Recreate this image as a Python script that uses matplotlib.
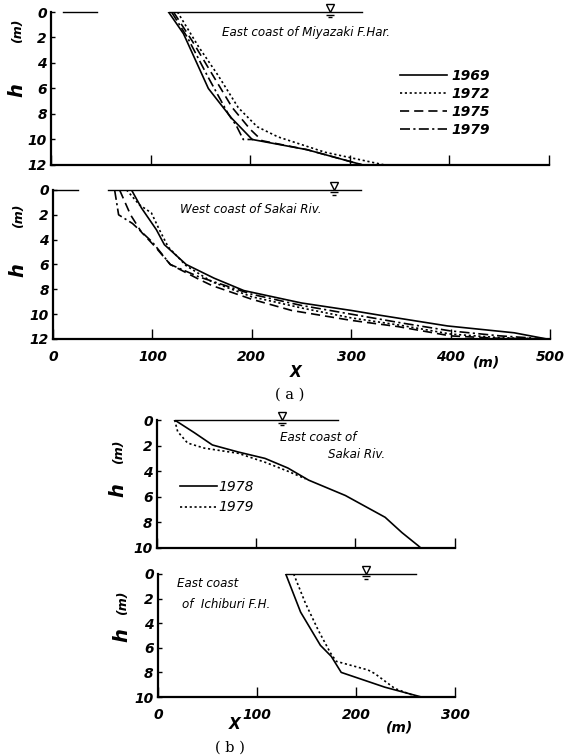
import matplotlib
matplotlib.use("Agg")
import matplotlib.pyplot as plt
from matplotlib.transforms import offset_copy

plt.rcParams["font.family"] = "DejaVu Sans"

# ----------
#  DATA  (x: distance offshore [m], h: depth [m])
# ----------
# (a) East coast of Miyazaki F.Har.
miy_1969_x = [118, 133, 158, 181, 202, 257, 313]
miy_1969_h = [0, 1.7, 6.0, 8.3, 10.0, 10.8, 12.0]
miy_1972_x = [127, 148, 168, 188, 207, 228, 275, 335]
miy_1972_h = [0, 2.7, 5.0, 7.5, 9.0, 9.8, 11.0, 12.0]
miy_1975_x = [123, 142, 162, 182, 200, 212, 257, 313]
miy_1975_h = [0, 2.3, 4.9, 7.5, 9.2, 10.1, 10.8, 12.0]
miy_1979_x = [121, 137, 157, 178, 186, 193, 203]
miy_1979_h = [0, 2.0, 5.0, 8.0, 8.9, 10.0, 10.0]

# (a) West coast of Sakai Riv.
sakw_1969_x = [79, 89, 104, 112, 134, 162, 192, 250, 300, 330, 397, 464, 497]
sakw_1969_h = [0, 1.45, 3.2, 4.4, 6.0, 7.1, 8.1, 9.1, 9.7, 10.1, 10.95, 11.5, 12.0]
sakw_1972_x = [74, 87, 99, 107, 116, 134, 160, 200, 250, 300, 350, 400, 450, 497]
sakw_1972_h = [0, 1.2, 1.85, 3.2, 4.6, 6.1, 7.4, 8.6, 9.5, 10.3, 10.9, 11.6, 11.9, 12.0]
sakw_1975_x = [67, 78, 89, 102, 118, 147, 160, 200, 240, 300, 347, 400, 450, 497]
sakw_1975_h = [0, 2.0, 3.4, 4.5, 6.0, 7.2, 7.7, 8.8, 9.7, 10.5, 11.0, 11.75, 11.95, 12.0]
sakw_1979_x = [62, 66, 80, 100, 118, 147, 200, 250, 300, 350, 400, 450, 497]
sakw_1979_h = [0, 2.0, 2.7, 4.2, 6.0, 7.0, 8.4, 9.3, 10.0, 10.7, 11.35, 11.75, 12.0]

# (b) East coast of Sakai Riv.
sake_1978_x = [18, 38, 56, 82, 109, 132, 153, 190, 230, 247, 263, 266]
sake_1978_h = [0, 1.0, 1.95, 2.5, 3.0, 3.75, 4.7, 5.9, 7.6, 8.8, 9.8, 10.0]
sake_1979_x = [18, 21, 31, 48, 82, 109, 132, 150]
sake_1979_h = [0, 0.9, 1.8, 2.2, 2.6, 3.3, 4.0, 4.6]

# (b) East coast of Ichiburi F.H.
ich_1978_x = [129, 144, 164, 175, 185, 229, 266]
ich_1978_h = [0, 3.1, 5.8, 6.7, 8.0, 9.2, 10.0]
ich_1979_x = [137, 149, 162, 174, 180, 212, 219, 239, 262]
ich_1979_h = [0, 2.4, 4.6, 6.4, 7.1, 7.8, 8.1, 9.3, 10.0]

# water surface: line span, symbol position, stray border piece
water_miy = ([118, 312], 280, [12, 46])
water_sakw = ([55, 310], 283, [0, 25])
water_sake = ([18, 183], 126, None)
water_ich = ([129, 260], 210, None)

years_a = ["1969", "1972", "1975", "1979"]
years_b = ["1978", "1979"]

# ----------
#  STYLE
# ----------
ls_solid = "-"
ls_dot = (0, (1.3, 1.6))
ls_dash = (0, (5.5, 3))
ls_dashdot = (0, (6, 2, 1.3, 2))
lw = 1.2
tick_font = dict(fontstyle="italic", fontweight="bold", fontsize=10)
note_font = dict(fontstyle="italic", fontsize=8.6)

fig = plt.figure(figsize=(5.64, 7.55), dpi=100)
ax1 = fig.add_axes([0.0904, 0.7815, 0.883, 0.2026])
ax2 = fig.add_axes([0.094, 0.551, 0.881, 0.1974])
ax3 = fig.add_axes([0.278, 0.2742, 0.528, 0.1695])
ax4 = fig.add_axes([0.280, 0.0768, 0.527, 0.163])


def style_axes(ax, xmax, hmax, xlabels):
    ax.set_xlim(0, xmax)
    ax.set_ylim(hmax, 0)
    for s in ("top", "right"):
        ax.spines[s].set_visible(False)
    for s in ("left", "bottom"):
        ax.spines[s].set_linewidth(1.6)
    xt = list(range(0, xmax + 1, 100))
    ax.set_xticks(xt, [str(v) for v in xt] if xlabels else [], **tick_font)
    yt = list(range(0, hmax + 1, 2))
    ax.set_yticks(yt, [str(v) for v in yt], **tick_font)
    ax.tick_params(axis="x", direction="in", length=7, width=1.0, pad=8)
    ax.tick_params(axis="y", direction="in", length=3, width=1.0, pad=3)


def water_level(ax, spec):
    span, sym_x, stray = spec
    ax.plot(span, [0, 0], color="k", lw=1.0, clip_on=False)
    if stray is not None:
        ax.plot(stray, [0, 0], color="k", lw=1.0, clip_on=False)
    tr = offset_copy(ax.transData, fig=fig, y=2.6, units="points")
    ax.plot([sym_x], [0], marker="v", ms=5.2, mfc="white", mec="k",
            mew=1.0, transform=tr, clip_on=False)
    for dy, w in ((-1.8, 5.5), (-3.6, 3.0)):
        tr = offset_copy(ax.transData, fig=fig, y=dy, units="points")
        ax.plot([sym_x], [0], marker="_", ms=w, mew=1.0, color="k",
                transform=tr, clip_on=False)


def h_label(ax, x, yh, ym):
    ax.text(x, yh, "h", transform=ax.transAxes, rotation=90, ha="center",
            va="center", fontsize=14, fontstyle="italic", fontweight="bold")
    ax.text(x, ym, "(m)", transform=ax.transAxes, rotation=90, ha="center",
            va="center", fontsize=9, fontstyle="italic", fontweight="bold")


def x_note(ax, text, x, dy, size):
    ax.annotate(text, xy=(x, 0), xycoords=("data", "axes fraction"),
                xytext=(0, dy), textcoords="offset points", ha="center",
                va="center", fontsize=size, fontstyle="italic", fontweight="bold")


# ---- (a) top: Miyazaki
style_axes(ax1, 500, 12, False)
ax1.plot(miy_1969_x, miy_1969_h, color="k", lw=lw, ls=ls_solid, label=years_a[0])
ax1.plot(miy_1972_x, miy_1972_h, color="k", lw=lw, ls=ls_dot, label=years_a[1])
ax1.plot(miy_1975_x, miy_1975_h, color="k", lw=lw, ls=ls_dash, label=years_a[2])
ax1.plot(miy_1979_x, miy_1979_h, color="k", lw=lw, ls=ls_dashdot, label=years_a[3])
water_level(ax1, water_miy)
ax1.text(0.343, 0.863, "East coast of Miyazaki F.Har.", transform=ax1.transAxes,
         ha="left", va="center", **note_font)
ax1.legend(loc="upper left", bbox_to_anchor=(0.70, 0.63), frameon=False,
           borderpad=0, borderaxespad=0, handlelength=3.4, handletextpad=0.3,
           labelspacing=0.3, prop=dict(style="italic", weight="bold", size=10))
h_label(ax1, -0.068, 0.49, 0.88)

# ---- (a) bottom: Sakai west
style_axes(ax2, 500, 12, True)
ax2.plot(sakw_1969_x, sakw_1969_h, color="k", lw=lw, ls=ls_solid)
ax2.plot(sakw_1972_x, sakw_1972_h, color="k", lw=lw, ls=ls_dot)
ax2.plot(sakw_1975_x, sakw_1975_h, color="k", lw=lw, ls=ls_dash)
ax2.plot(sakw_1979_x, sakw_1979_h, color="k", lw=lw, ls=ls_dashdot)
water_level(ax2, water_sakw)
ax2.text(0.256, 0.866, "West coast of Sakai Riv.", transform=ax2.transAxes,
         ha="left", va="center", **note_font)
h_label(ax2, -0.07, 0.46, 0.83)
x_note(ax2, "X", 244, -24, 11)
x_note(ax2, "(m)", 436, -17, 10)
fig.text(290 / 564, 1 - 395 / 755, "( a )", ha="center", va="center",
         fontsize=10.5, family="DejaVu Serif")

# ---- (b) top: Sakai east
style_axes(ax3, 300, 10, False)
ax3.plot(sake_1978_x, sake_1978_h, color="k", lw=lw, ls=ls_solid, label=years_b[0])
ax3.plot(sake_1979_x, sake_1979_h, color="k", lw=lw, ls=ls_dot, label=years_b[1])
water_level(ax3, water_sake)
ax3.text(0.413, 0.867, "East coast of", transform=ax3.transAxes,
         ha="left", va="center", **note_font)
ax3.text(0.574, 0.727, "Sakai Riv.", transform=ax3.transAxes,
         ha="left", va="center", **note_font)
ax3.legend(loc="upper left", bbox_to_anchor=(0.077, 0.53), frameon=False,
           borderpad=0, borderaxespad=0, handlelength=2.7, handletextpad=0.1,
           labelspacing=0.45, prop=dict(style="italic", size=10))
h_label(ax3, -0.13, 0.45, 0.75)

# ---- (b) bottom: Ichiburi
style_axes(ax4, 300, 10, True)
ax4.plot(ich_1978_x, ich_1978_h, color="k", lw=lw, ls=ls_solid)
ax4.plot(ich_1979_x, ich_1979_h, color="k", lw=lw, ls=ls_dot)
water_level(ax4, water_ich)
ax4.text(0.064, 0.92, "East coast", transform=ax4.transAxes,
         ha="left", va="center", **note_font)
ax4.text(0.081, 0.75, "of  Ichiburi F.H.", transform=ax4.transAxes,
         ha="left", va="center", **note_font)
h_label(ax4, -0.12, 0.50, 0.77)
x_note(ax4, "X", 77, -20, 11)
x_note(ax4, "(m)", 244, -22, 10)
fig.text(230 / 564, 1 - 748 / 755, "( b )", ha="center", va="center",
         fontsize=10.5, family="DejaVu Serif")

fig.savefig("out.png", dpi=100)
